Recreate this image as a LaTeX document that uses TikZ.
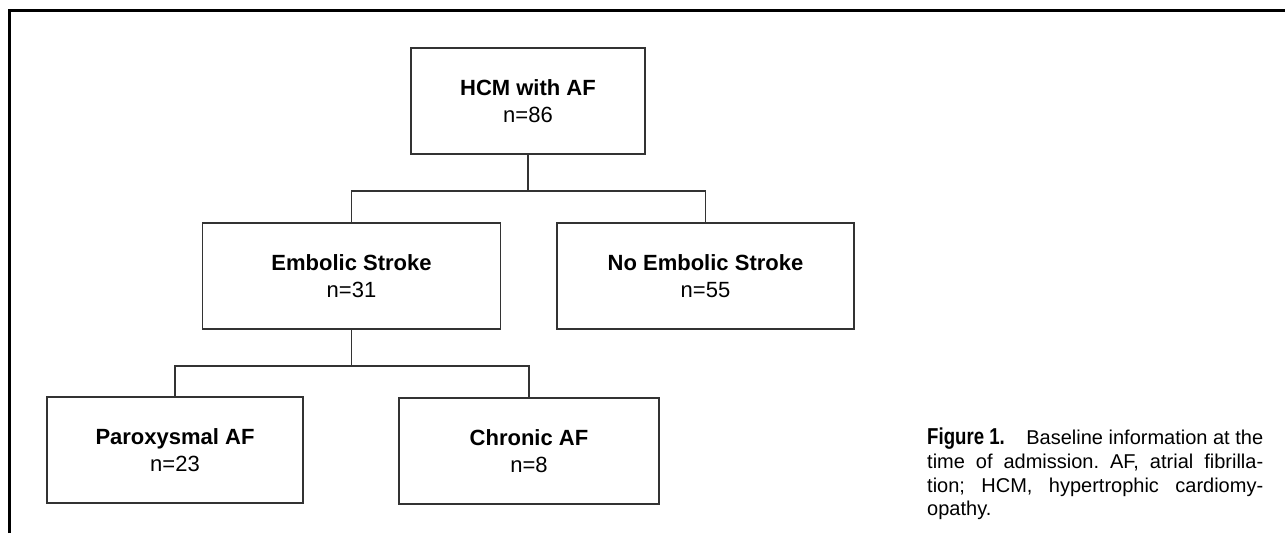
\documentclass[tikz,border=0pt]{standalone}
\usepackage{fontspec}
\setmainfont{Liberation Sans}
\begin{document}
\begin{tikzpicture}[x=1pt,y=-1pt,
  box/.style={draw=black!80, line width=1.3pt, rectangle, inner sep=0pt,
    minimum height=106pt, align=center,
    font=\fontsize{22}{27}\selectfont},
  conn/.style={draw=black!80, line width=1.3pt}]
\useasboundingbox (0,0) rectangle (1285,533);
% frame
\draw[line width=3pt] (9.5,533) -- (9.5,10) -- (1285,10);
% boxes
\node[box, minimum width=234pt] (hcm) at (528,101) {\textbf{HCM with AF}\\n=86};
\node[box, minimum width=298pt] (emb) at (351.5,276) {\textbf{Embolic Stroke}\\n=31};
\node[box, minimum width=297pt] (noemb) at (705.5,276) {\textbf{No Embolic Stroke}\\n=55};
\node[box, minimum width=256pt] (par) at (175,450) {\textbf{Paroxysmal AF}\\n=23};
\node[box, minimum width=260pt] (chr) at (529,451) {\textbf{Chronic AF}\\n=8};
% connectors
\coordinate (j1) at (528,191);
\coordinate (j2) at (351.5,366);
\draw[conn] (hcm.south) -- (j1);
\draw[conn] (j1) -| (emb.north);
\draw[conn] (j1) -| (noemb.north);
\draw[conn] (emb.south) -- (j2);
\draw[conn] (j2) -| (par.north);
\draw[conn] (j2) -| (chr.north);
% caption
\node[anchor=north west, inner sep=0pt, text width=336pt, align=justify,
  font=\fontsize{20}{23.7}\selectfont] (cap) at (927,428)
  {\frenchspacing\hyphenpenalty=10000 \scalebox{0.81}[1]{\fontsize{23}{23.7}\selectfont\textbf{Figure 1.}}\hfill\mbox{Baseline information at the}\linebreak time of admission. AF, atrial fibrilla-\linebreak tion; HCM, hypertrophic cardiomy-\linebreak opathy.};
\end{tikzpicture}
\end{document}
